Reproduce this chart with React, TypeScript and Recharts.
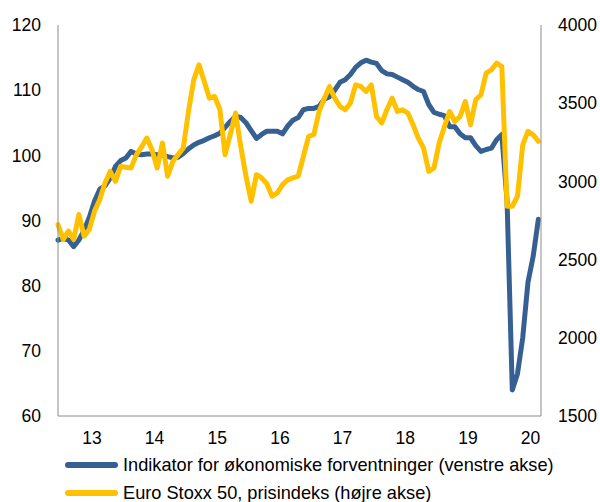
import { LineChart, Line, XAxis, YAxis, Legend } from "recharts"

// ─── Data (monthly, Jan 2013 – Sep 2020) ──────────────────────────────────────

const yearLabels = ["13", "14", "15", "16", "17", "18", "19", "20"]

const indicator = [
  87, 87.3, 87, 86, 87, 88.5, 90.5, 93, 94.8, 95.3,
  96.5, 98.3, 99.2, 99.6, 100.6, 100.2, 100.1, 100.2, 100.2, 100.1,
  100, 99.8, 99.6, 99.7, 100.3, 101, 101.6, 102, 102.3, 102.7,
  103, 103.4, 104.3, 105.2, 106, 105.8, 105, 103.8, 102.6, 103.2,
  103.7, 103.7, 103.7, 103.3, 104.5, 105.4, 105.8, 107, 107.2, 107.2,
  107.5, 108.6, 109, 110, 111.2, 111.6, 112.4, 113.5, 114.2, 114.6,
  114.3, 114.1, 113, 112.5, 112.4, 112, 111.6, 111.2, 110.6, 110.1,
  109.8, 107.8, 106.6, 106.3, 106.1, 104.4, 104.4, 103.3, 102.7, 102.7,
  101.5, 100.6, 100.9, 101.1, 102.4, 103.2, 93, 64, 66.5, 72,
  80.5, 84.5, 90.2,
]

const stoxx = [
  2724, 2629, 2682, 2629, 2788, 2650, 2693, 2810, 2884, 2990,
  3064, 3000, 3096, 3090, 3086, 3170, 3220, 3277, 3203, 3086,
  3246, 3033, 3128, 3171, 3214, 3450, 3649, 3745, 3640, 3532,
  3543, 3460, 3171, 3300, 3437, 3224, 3033, 2873, 3043, 3022,
  2985, 2905, 2926, 2980, 3010, 3022, 3033, 3160, 3288, 3300,
  3447, 3530, 3607, 3532, 3480, 3458, 3501, 3617, 3607, 3575,
  3617, 3415, 3373, 3460, 3532, 3447, 3458, 3437, 3362, 3277,
  3214, 3064, 3086, 3246, 3350, 3447, 3383, 3415, 3511, 3362,
  3522, 3554, 3692, 3713, 3756, 3734, 2841, 2841, 2905, 3235,
  3320, 3298, 3256,
]

const leftTicks = [60, 70, 80, 90, 100, 110, 120]
const rightTicks = [1500, 2000, 2500, 3000, 3500, 4000]

const seriesNames = [
  "Indikator for økonomiske forventninger (venstre akse)",
  "Euro Stoxx 50, prisindeks (højre akse)",
]

// ─── Styling ──────────────────────────────────────────────────────────────────

const BLUE = "#376092"
const GOLD = "#FFC000"
const AXIS = "#8C8C8C"
const FONT = "'Liberation Sans', Arial, sans-serif"

const chartData = indicator.map((v, i) => ({ t: i, indicator: v, stoxx: stoxx[i] }))
// year label sits mid-year
const yearTicks = yearLabels.map((_, i) => 6.5 + i * 12)

const tickStyle = { fontSize: 17.5, fill: "#000", fontFamily: FONT }

function LegendContent() {
  const rows = [
    { name: seriesNames[0], color: BLUE },
    { name: seriesNames[1], color: GOLD },
  ]
  return (
    <div style={{ height: 70, paddingLeft: 65, paddingTop: 1, fontFamily: FONT, fontSize: 18.2, color: "#000" }}>
      {rows.map((r) => (
        <div key={r.name} style={{ display: "flex", alignItems: "center", height: 28, whiteSpace: "nowrap" }}>
          <span style={{ width: 53, height: 6, borderRadius: 3, background: r.color, marginRight: 5, flexShrink: 0 }} />
          <span>{r.name}</span>
        </div>
      ))}
    </div>
  )
}

export default function App() {
  return (
    <div style={{ position: "absolute", left: 0, top: 0, width: 600, height: 502, overflow: "hidden", background: "#fff" }}>
      <LineChart width={600} height={520} data={chartData} margin={{ top: 25, right: 0, bottom: 0, left: 0 }}>
        <XAxis
          dataKey="t"
          type="number"
          domain={[0, 92.5]}
          ticks={yearTicks}
          tickFormatter={(v: number) => yearLabels[Math.round((v - 6.5) / 12)]}
          tickLine={false}
          tickSize={0}
          tickMargin={16}
          height={34}
          axisLine={{ stroke: AXIS }}
          tick={tickStyle}
          interval={0}
        />
        <YAxis
          yAxisId="left"
          domain={[60, 120]}
          ticks={leftTicks}
          width={58}
          tickLine={false}
          tickSize={0}
          tickMargin={17}
          axisLine={{ stroke: AXIS }}
          tick={tickStyle}
        />
        <YAxis
          yAxisId="right"
          orientation="right"
          domain={[1500, 4000]}
          ticks={rightTicks}
          width={59}
          tickLine={false}
          tickSize={0}
          tickMargin={17}
          axisLine={{ stroke: AXIS }}
          tick={tickStyle}
        />
        <Legend verticalAlign="bottom" align="left" height={70} content={<LegendContent />} />
        <Line
          yAxisId="left"
          dataKey="indicator"
          name={seriesNames[0]}
          type="linear"
          stroke={BLUE}
          strokeWidth={5}
          strokeLinejoin="round"
          strokeLinecap="round"
          dot={false}
          isAnimationActive={false}
        />
        <Line
          yAxisId="right"
          dataKey="stoxx"
          name={seriesNames[1]}
          type="linear"
          stroke={GOLD}
          strokeWidth={5}
          strokeLinejoin="round"
          strokeLinecap="round"
          dot={false}
          isAnimationActive={false}
        />
      </LineChart>
    </div>
  )
}
